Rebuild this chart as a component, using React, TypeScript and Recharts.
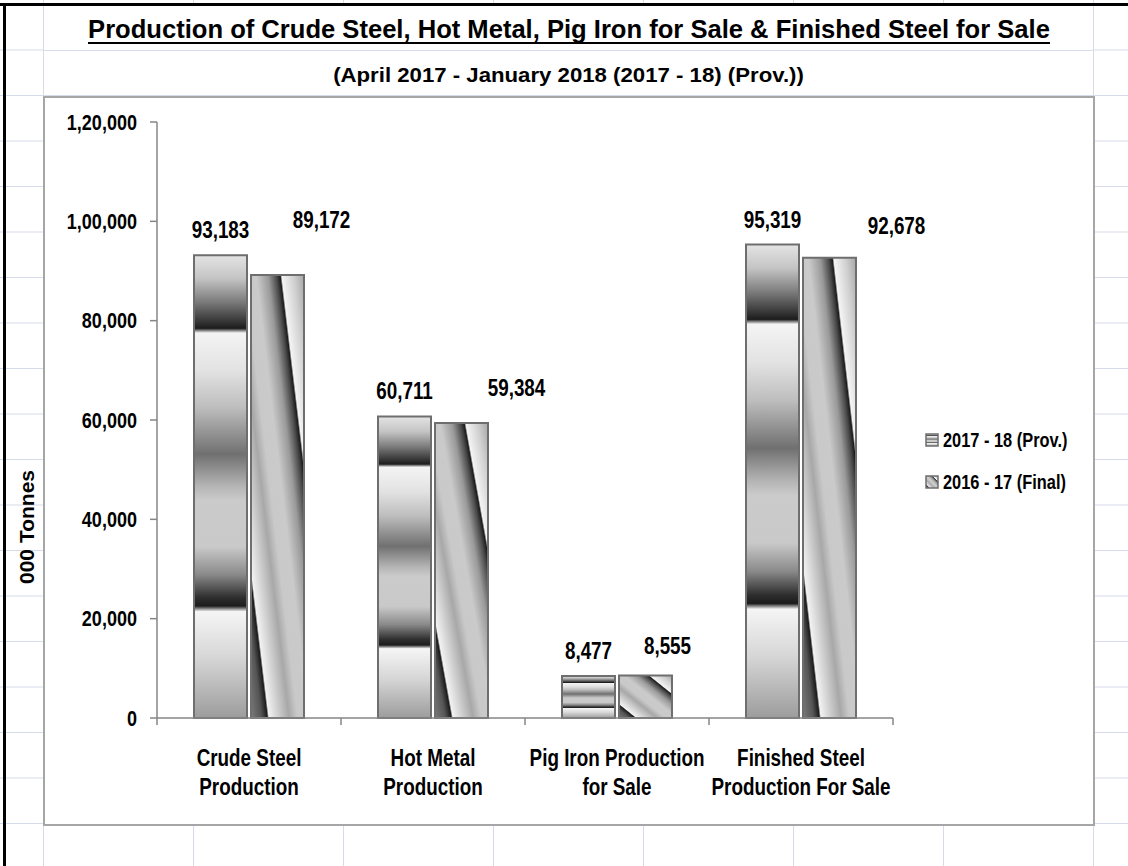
import React from 'react';
import { BarChart, Bar, XAxis, YAxis, LabelList } from 'recharts';

const categories = [
  'Crude Steel\nProduction',
  'Hot Metal\nProduction',
  'Pig Iron Production\nfor Sale',
  'Finished Steel\nProduction For Sale',
];
const prov2017_18 = [93183, 60711, 8477, 95319];
const final2016_17 = [89172, 59384, 8555, 92678];
const seriesNames = ['2017 - 18 (Prov.)', '2016 - 17 (Final)'];
const yTicks = [0, 20000, 40000, 60000, 80000, 100000, 120000];

const data = categories.map((name, i) => ({
  name,
  prov: prov2017_18[i],
  final: final2016_17[i],
}));

// excel put the 2016-17 labels off to the right, nudges per bar (dx, baseline dy from bar top)
const finalLabelNudge = [
  [44, -47],
  [55, -27],
  [22, -22],
  [67, -24],
];

const SANS = "'Liberation Sans', Arial, sans-serif";
const SQUEEZE = 0.82; // arial narrow is roughly arial squeezed

// indian grouping, 1,20,000
function fmtIN(v: number) {
  const s = String(Math.round(v));
  if (s.length <= 3) return s;
  const last3 = s.slice(-3);
  let rest = s.slice(0, -3);
  const parts: string[] = [];
  while (rest.length > 2) {
    parts.unshift(rest.slice(-2));
    rest = rest.slice(0, -2);
  }
  if (rest) parts.unshift(rest);
  return parts.join(',') + ',' + last3;
}

function NarrowText({ x, y, size, anchor = 'middle', dy, children }: any) {
  return (
    <text
      transform={`translate(${x},${y}) scale(${SQUEEZE},1)`}
      x={0}
      y={0}
      dy={dy}
      textAnchor={anchor}
      fontFamily={SANS}
      fontWeight="bold"
      fontSize={size}
      fill="#000"
    >
      {children}
    </text>
  );
}

function Gradients() {
  return (
    <svg width={0} height={0} style={{ position: 'absolute', left: 0, top: 0 }}>
      <defs>
        <linearGradient id="provFill" x1="0" y1="0" x2="0" y2="1">
          <stop offset="0" stopColor="#e4e4e4" />
          <stop offset="0.05" stopColor="#c4c4c4" />
          <stop offset="0.1" stopColor="#7c7c7c" />
          <stop offset="0.145" stopColor="#333333" />
          <stop offset="0.158" stopColor="#1c1c1c" />
          <stop offset="0.168" stopColor="#f4f4f4" />
          <stop offset="0.25" stopColor="#e2e2e2" />
          <stop offset="0.33" stopColor="#bdbdbd" />
          <stop offset="0.43" stopColor="#707070" />
          <stop offset="0.5" stopColor="#b5b5b5" />
          <stop offset="0.53" stopColor="#cbcbcb" />
          <stop offset="0.63" stopColor="#c9c9c9" />
          <stop offset="0.69" stopColor="#8a8a8a" />
          <stop offset="0.74" stopColor="#2e2e2e" />
          <stop offset="0.758" stopColor="#1c1c1c" />
          <stop offset="0.77" stopColor="#f5f5f5" />
          <stop offset="0.87" stopColor="#d6d6d6" />
          <stop offset="1" stopColor="#9c9c9c" />
        </linearGradient>
        <linearGradient id="finalFill" x1="0" y1="1" x2="1" y2="0">
          <stop offset="0" stopColor="#7a7a7a" />
          <stop offset="0.1" stopColor="#555555" />
          <stop offset="0.155" stopColor="#1c1c1c" />
          <stop offset="0.17" stopColor="#f2f2f2" />
          <stop offset="0.26" stopColor="#cfcfcf" />
          <stop offset="0.36" stopColor="#a8a8a8" />
          <stop offset="0.44" stopColor="#c9c9c9" />
          <stop offset="0.55" stopColor="#cacaca" />
          <stop offset="0.66" stopColor="#9a9a9a" />
          <stop offset="0.74" stopColor="#4a4a4a" />
          <stop offset="0.775" stopColor="#1c1c1c" />
          <stop offset="0.79" stopColor="#f4f4f4" />
          <stop offset="0.9" stopColor="#d0d0d0" />
          <stop offset="1" stopColor="#a6a6a6" />
        </linearGradient>
      </defs>
    </svg>
  );
}

function CategoryTick(props: any) {
  const { x, y, payload, width, visibleTicksCount } = props;
  const band = width / visibleTicksCount;
  const lines = String(payload.value).split('\n');
  const last = payload.index === visibleTicksCount - 1;
  return (
    <g>
      <line x1={x - band / 2} x2={x - band / 2} y1={y} y2={y + 7} stroke="#868686" strokeWidth={1.5} />
      {last && <line x1={x + band / 2} x2={x + band / 2} y1={y} y2={y + 7} stroke="#868686" strokeWidth={1.5} />}
      {lines.map((l, i) => (
        <NarrowText key={i} x={x} y={y + 48 + i * 29} size={23}>
          {l}
        </NarrowText>
      ))}
    </g>
  );
}

function ValueTick(props: any) {
  const { x, y, payload } = props;
  return (
    <NarrowText x={x} y={y} dy="0.355em" size={22} anchor="end">
      {fmtIN(payload.value)}
    </NarrowText>
  );
}

function ProvLabel(props: any) {
  const { x, y, width, value } = props;
  return (
    <NarrowText x={x + width / 2} y={y - 17} size={23}>
      {fmtIN(value)}
    </NarrowText>
  );
}

function FinalLabel(props: any) {
  const { x, y, width, value, index } = props;
  const [dx, dy] = finalLabelNudge[index];
  return (
    <NarrowText x={x + width / 2 + dx} y={y + dy} size={23}>
      {fmtIN(value)}
    </NarrowText>
  );
}

export default function App() {
  return (
    <div
      style={{
        position: 'absolute',
        left: 0,
        top: 0,
        width: 1128,
        height: 866,
        overflow: 'hidden',
        background: '#fff',
        backgroundImage:
          'linear-gradient(to right, #d5dbe8 1px, transparent 1px), linear-gradient(to bottom, #d5dbe8 1px, transparent 1px)',
        backgroundSize: '150px 45.5px, 150px 45.5px',
        backgroundPosition: '43px 4px, 43px 4px',
      }}
    >
      <Gradients />
      {/* merged title cells */}
      <div style={{ position: 'absolute', left: 44, top: 6, width: 1048, height: 89, background: '#fff' }} />
      <div style={{ position: 'absolute', left: 44, top: 50, width: 1048, height: 1, background: '#d5dbe8' }} />
      {/* sheet frame */}
      <div style={{ position: 'absolute', left: 0, top: 3, width: 1128, height: 3, background: '#000' }} />
      <div style={{ position: 'absolute', left: 3, top: 3, width: 3, height: 866, background: '#000' }} />
      {/* chart area */}
      <div
        style={{
          position: 'absolute',
          left: 43,
          top: 96,
          width: 1048,
          height: 726,
          background: '#fff',
          border: '2px solid #a6a6a6',
        }}
      />

      <svg width={1128} height={866} style={{ position: 'absolute', left: 0, top: 0 }}>
        <text
          transform="translate(569,38) scale(0.84,1)"
          x={0}
          y={0}
          textAnchor="middle"
          fontFamily={SANS}
          fontWeight="bold"
          fontSize={26}
          textLength={1145}
          lengthAdjust="spacingAndGlyphs"
          fill="#000"
        >
          Production of Crude Steel, Hot Metal, Pig Iron for Sale &amp; Finished Steel for Sale
        </text>
        <line x1={88} x2={1050} y1={43} y2={43} stroke="#000" strokeWidth={2} />
        <text
          transform="translate(568.5,82) scale(0.9,1)"
          x={0}
          y={0}
          textAnchor="middle"
          fontFamily={SANS}
          fontWeight="bold"
          fontSize={20}
          textLength={523}
          lengthAdjust="spacingAndGlyphs"
          fill="#000"
        >
          (April 2017 - January 2018 (2017 - 18) (Prov.))
        </text>
        <text
          x={26}
          y={527}
          transform="rotate(-90 26 527)"
          textAnchor="middle"
          dominantBaseline="central"
          fontFamily={SANS}
          fontWeight="bold"
          fontSize={21}
          fill="#000"
        >
          000 Tonnes
        </text>
      </svg>

      <div style={{ position: 'absolute', left: 0, top: 0 }}>
        <BarChart
          width={1128}
          height={866}
          data={data}
          margin={{ top: 122, right: 235, bottom: 68, left: 57 }}
          barCategoryGap={37}
          barGap={4}
        >
          <XAxis
            dataKey="name"
            height={80}
            interval={0}
            tickLine={false}
            tickSize={0}
            tickMargin={0}
            axisLine={{ stroke: '#868686', strokeWidth: 1.5 }}
            tick={<CategoryTick />}
          />
          <YAxis
            width={100}
            domain={[0, 120000]}
            ticks={yTicks}
            interval={0}
            tickSize={7}
            tickMargin={13}
            tickLine={{ stroke: '#868686', strokeWidth: 1.5 }}
            axisLine={{ stroke: '#868686', strokeWidth: 1.5 }}
            tick={<ValueTick />}
          />
          <Bar dataKey="prov" name={seriesNames[0]} fill="url(#provFill)" stroke="#6e6e6e" strokeWidth={2} isAnimationActive={false}>
            <LabelList dataKey="prov" content={<ProvLabel />} />
          </Bar>
          <Bar dataKey="final" name={seriesNames[1]} fill="url(#finalFill)" stroke="#6e6e6e" strokeWidth={2} isAnimationActive={false}>
            <LabelList dataKey="final" content={<FinalLabel />} />
          </Bar>
        </BarChart>
      </div>

      {/* legend */}
      <svg width={200} height={100} style={{ position: 'absolute', left: 920, top: 420 }}>
        {seriesNames.map((n, i) => (
          <g key={n}>
            <rect
              x={6}
              y={14 + i * 42}
              width={12}
              height={12}
              fill={i === 0 ? 'url(#provFill)' : 'url(#finalFill)'}
              stroke="#6e6e6e"
              strokeWidth={1.5}
            />
            <NarrowText x={23} y={27 + i * 42} size={20} anchor="start">
              {n}
            </NarrowText>
          </g>
        ))}
      </svg>
    </div>
  );
}
